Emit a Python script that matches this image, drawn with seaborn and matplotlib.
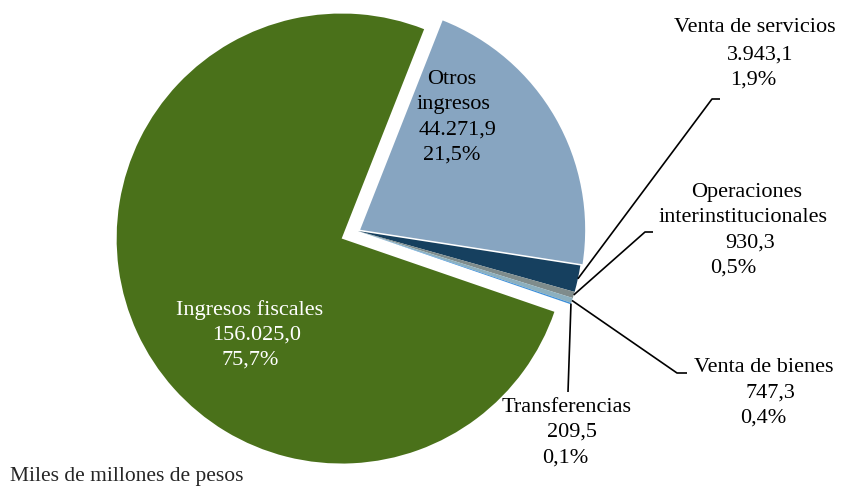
import numpy as np
import matplotlib
matplotlib.use("Agg")
import matplotlib.pyplot as plt
import seaborn as sns

# ---- data ----
categories = ["Otros ingresos", "Venta de servicios", "Operaciones interinstitucionales",
              "Venta de bienes", "Transferencias", "Ingresos fiscales"]
label_names = [["Otros", "ingresos"], ["Venta de servicios"],
               ["Operaciones", "interinstitucionales"], ["Venta de bienes"],
               ["Transferencias"], ["Ingresos fiscales"]]
values = [44271.9, 3943.1, 930.3, 747.3, 209.5, 156025.0]
colors = ["#87a5c1", "#16405f", "#7f8c8c", "#8cb0bf", "#3d8fd8", "#4a711a"]
footnote = "Miles de millones de pesos"

sns.set_theme(style="white")
plt.rcParams["font.family"] = ["Liberation Serif", "DejaVu Serif"]

W, H = 842, 487
fig = plt.figure(figsize=(W / 100, H / 100), dpi=100)
ax = fig.add_axes([0, 0, 1, 1])

cx, cy, R = 358, H - 231, 225
start = 68.5
explode = [2.5, 0, 0, 0, 0, 18]   # absolute offsets (same units as radius)
wedges, _ = ax.pie(values, colors=colors, startangle=start, counterclock=False,
                   radius=R, center=(cx, cy), explode=explode,
                   wedgeprops=dict(linewidth=0))
ax.set_xlim(0, W)
ax.set_ylim(0, H)
ax.set_aspect("equal")
ax.axis("off")

total = sum(values)

def fmt_num(v):
    s = f"{v:,.1f}"
    return s.replace(",", "X").replace(".", ",").replace("X", ".")

def fmt_pct(v):
    return f"{100 * v / total:.1f}".replace(".", ",") + "%"

# line centres (pixel coords from top) for each label block
line_pos = [
    [(452, 80), (453, 105), (458, 130), (452, 155)],
    [(755, 27), (760, 55), (753, 80)],
    [(747, 192), (743, 217), (750, 243), (733, 268)],
    [(764, 367), (770, 393), (763, 418)],
    [(567, 407), (572, 432), (565, 458)],
    [(250, 310), (257, 335), (250, 360)],
]
text_colors = ["black"] * 5 + ["white"]
fs = 16

for i, (names, v) in enumerate(zip(label_names, values)):
    lines = names + [fmt_num(v), fmt_pct(v)]
    for (x, y), t in zip(line_pos[i], lines):
        ax.text(x, H - y, t, ha="center", va="center", fontsize=fs,
                color=text_colors[i])

# leader lines for small slices: from rim to elbow, then short horizontal
leaders = {1: [(712, 99), (720, 99)],
           2: [(645, 232), (653, 232)],
           3: [(677, 373), (687, 373)],
           4: [(568, 392)]}
for i, pts in leaders.items():
    w = wedges[i]
    mid = np.deg2rad((w.theta1 + w.theta2) / 2)
    rx, ry = w.center[0] + R * np.cos(mid), w.center[1] + R * np.sin(mid)
    xs = [rx] + [p[0] for p in pts]
    ys = [ry] + [H - p[1] for p in pts]
    ax.plot(xs, ys, color="black", linewidth=1.2, solid_capstyle="butt")

ax.text(10, H - 476, footnote, ha="left", va="center", fontsize=15.5)

fig.savefig("out.png", dpi=100, facecolor="white")
